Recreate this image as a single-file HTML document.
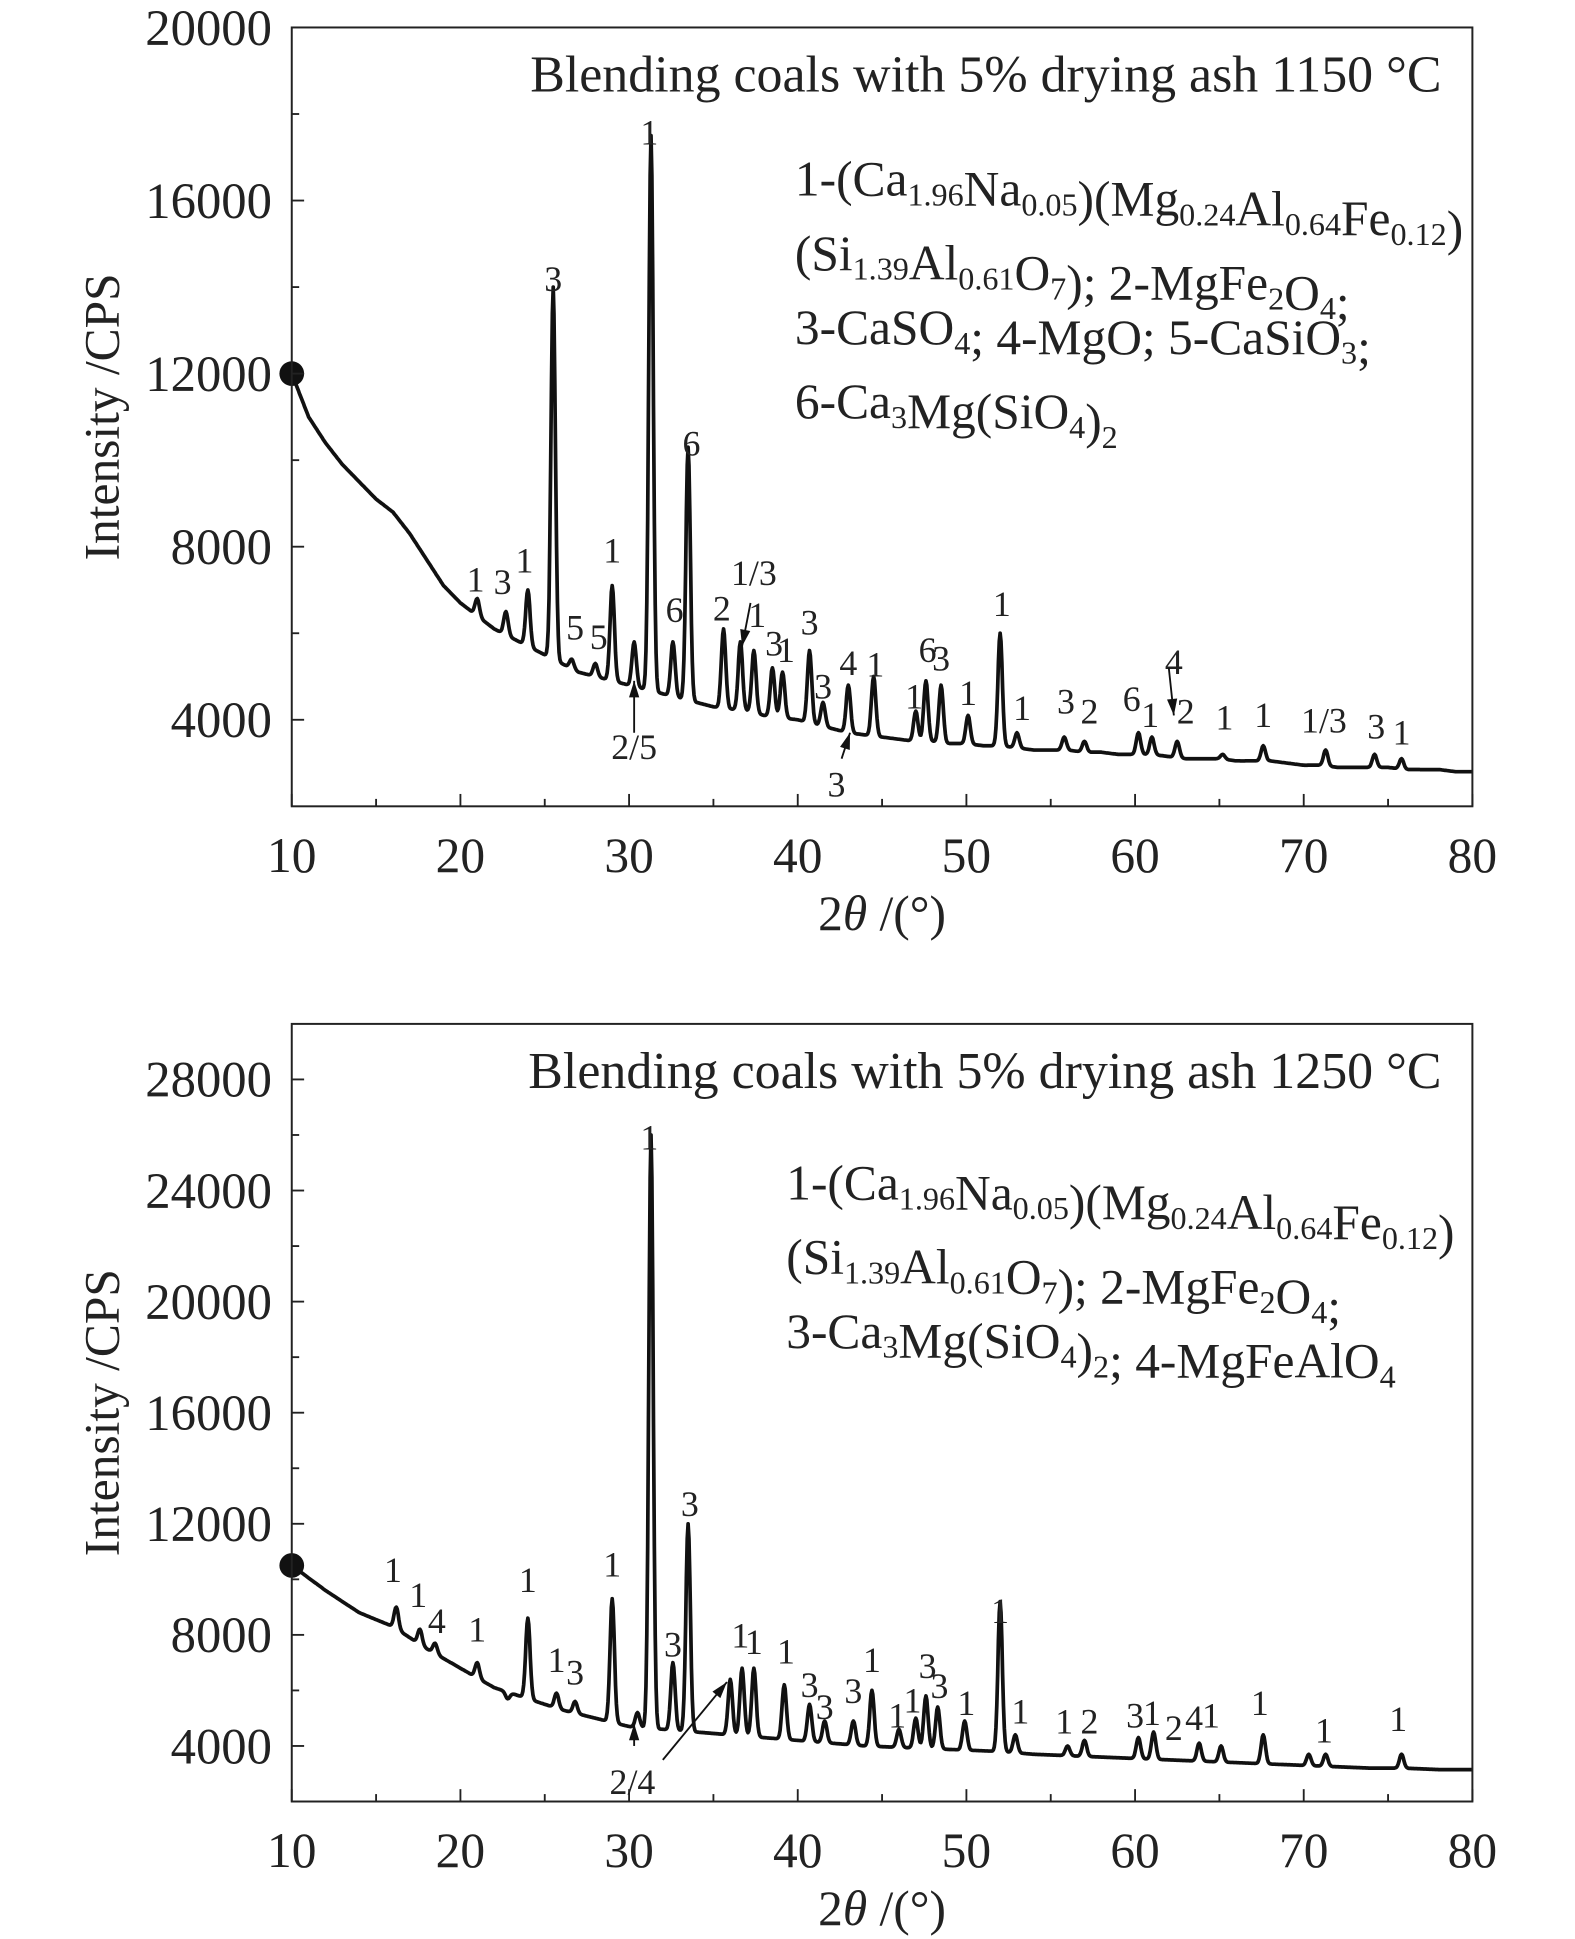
<!DOCTYPE html>
<html><head><meta charset="utf-8"><style>
html,body{margin:0;padding:0;background:#fff}
svg{display:block}
text{font-family:"Liberation Serif",serif;fill:#222}
</style></head><body>
<svg id="chart" width="1575" height="1939" viewBox="0 0 1274 1568" xmlns="http://www.w3.org/2000/svg"></svg>
<script>
// ---- Data: top panel (1150 °C) ----
const topBaseAngles = [10,11,12,13,14,15,16,17,18,19,20,21,22,23,24,25,26,27,28,29,30,31,32,33,34,35,36,37,38,39,40,41,42,43,44,45,46,47,48,49,50,51,52,53,54,55,56,57,58,59,60,61,62,63,64,65,66,67,68,69,70,71,72,73,74,75,76,77,78,79,80];
const topBaseValues = [12000,11000,10400,9900,9500,9100,8800,8300,7700,7100,6700,6400,6100,5900,5700,5500,5300,5100,5000,4900,4800,4700,4600,4500,4400,4300,4250,4200,4100,4050,4000,3900,3800,3700,3650,3600,3550,3500,3500,3450,3450,3400,3400,3350,3300,3300,3300,3250,3250,3200,3200,3200,3150,3100,3100,3100,3050,3050,3050,3000,2950,2950,2900,2900,2900,2900,2850,2850,2850,2800,2800];
const topPeakAngles = [21,22.7,24,25.5,26.6,28,29,30.3,31.3,32.6,33.5,35.6,36.6,37.4,38.5,39.1,40.7,41.5,43,44.5,47,47.6,48.5,50.1,52,53,55.8,57,60.2,61,62.5,65.2,67.6,71.3,74.2,75.8];
const topPeakValues = [6800,6500,7000,14000,5400,5300,7100,5800,17500,5800,10300,6100,5800,5600,5200,5100,5600,4400,4800,5000,4200,4900,4800,4100,6000,3700,3600,3500,3700,3600,3500,3200,3400,3300,3200,3100];
const topLabelText = ["1","3","1","3","5","5","1","6","1","6","2","1/3","1","3","1","3","3","4","1","1","6","3","1","1","1","3","2","6","1","4","2","1","1","1/3","3","1","2/5","3"];
const topLabelAngles = [20.9,22.5,23.8,25.5,26.8,28.2,29,32.7,31.2,33.7,35.5,37.4,37.6,38.6,39.3,40.7,41.5,43,44.6,46.9,47.7,48.5,50.1,52.1,53.3,55.9,57.3,59.8,60.9,62.3,63,65.3,67.6,71.2,74.3,75.8,30.3,42.3];
const topLabelValues = [6970,6910,7400,13910,5860,5630,7630,6260,17290,10110,6290,7110,6140,5490,5340,5970,4490,5030,5000,4260,5340,5140,4340,6400,4000,4140,3910,4200,3830,5060,3910,3770,3830,3710,3570,3430,3090,2230];
const topTicks = [4000,8000,12000,16000,20000];
// ---- Data: bottom panel (1250 °C) ----
const botBaseAngles = [10,12,14,16,18,20,22,24,26,28,30,32,34,36,38,40,42,44,46,48,50,52,54,56,58,60,62,64,66,68,70,72,74,76,78,80];
const botBaseValues = [10500,9600,8800,8300,7500,6800,6100,5700,5300,5000,4700,4600,4500,4400,4300,4200,4100,4000,3950,3900,3850,3800,3700,3650,3600,3550,3500,3450,3400,3350,3300,3250,3200,3200,3150,3150];
const botPeakAngles = [16.2,17.6,18.5,21,22.8,24,25.7,26.8,29,30.5,31.3,32.6,33.5,36,36.7,37.4,39.2,40.7,41.6,43.3,44.4,46,47,47.6,48.3,49.9,52,52.9,56,57,60.2,61.1,63.8,65.1,67.6,70.3,71.3,75.8];
const botPeakValues = [9000,8200,7700,7000,5700,8600,5900,5600,9300,5200,26000,7000,12000,6400,6800,6800,6200,5500,4900,4900,6000,4600,5000,5800,5400,4900,9200,4400,4000,4200,4300,4500,4100,4000,4400,3700,3700,3700];
const botLabelText = ["1","1","4","1","1","1","3","1","1","3","3","1","1","1","3","3","3","1","1","1","3","3","1","1","1","1","2","3","1","2","4","1","1","1","1","2/4"];
const botLabelAngles = [16,17.5,18.6,21,24,25.7,26.8,29,31.2,32.6,33.6,36.6,37.4,39.3,40.7,41.6,43.3,44.4,45.9,46.8,47.7,48.4,50,52,53.2,55.8,57.3,60,61,62.3,63.5,64.5,67.4,71.2,75.6,30.2];
const botLabelValues = [9900,9000,8070,7760,9540,6660,6210,10100,25480,7230,12280,7540,7320,6970,5770,4970,5550,6660,4660,5200,6440,5730,5110,8430,4800,4440,4440,4660,4750,4220,4580,4660,5110,4130,4530,2270];
const botTicks = [4000,8000,12000,16000,20000,24000,28000];

const NS = "http://www.w3.org/2000/svg";
const svg = document.getElementById('chart');
function mk(tag, attrs, parent) {
  const e = document.createElementNS(NS, tag);
  for (const k in attrs) e.setAttribute(k, attrs[k]);
  (parent || svg).appendChild(e);
  return e;
}
function interp(xs, ys, x) {
  if (x <= xs[0]) return ys[0];
  for (let i = 1; i < xs.length; i++) {
    if (x <= xs[i]) { const t = (x - xs[i-1]) / (xs[i] - xs[i-1]); return ys[i-1] + t * (ys[i] - ys[i-1]); }
  }
  return ys[ys.length-1];
}
function panel(cfg) {
  const g = mk('g', {});
  
  
  const X = a => cfg.x0 + (a - 10) / 70 * (cfg.x1 - cfg.x0);
  const Y = v => cfg.y1 - (v - cfg.vmin) / (cfg.vmax - cfg.vmin) * (cfg.y1 - cfg.y0);
  let d = '';
  for (let a = 10; a <= 80.0001; a += 0.05) {
    let v = interp(cfg.bx, cfg.by, a);
    for (let i = 0; i < cfg.px.length; i++) {
      const base = interp(cfg.bx, cfg.by, cfg.px[i]);
      const h = cfg.pv[i] - base;
      const w = 0.13;
      v += h * Math.exp(-Math.pow((a - cfg.px[i]) / w, 2) / 2);
    }
    d += (d ? 'L' : 'M') + X(a).toFixed(1) + ' ' + Y(v).toFixed(1);
  }
  const line = mk('path', {d: d, fill: 'none', stroke: '#111', 'stroke-width': 3, 'stroke-linejoin': 'round'}, g);
  
  
  const dot = mk('circle', {cx: X(10), cy: Y(cfg.by[0]), r: 10, fill: '#111'}, g);
  
  
  const fr = mk('rect', {x: cfg.x0, y: cfg.y0, width: cfg.x1 - cfg.x0, height: cfg.y1 - cfg.y0, fill: 'none', stroke: '#222', 'stroke-width': 1.6}, g);
  
  
  for (let a = 10; a <= 80; a += 5) {
    const major = a % 10 === 0;
    mk('line', {x1: X(a), x2: X(a), y1: cfg.y1, y2: cfg.y1 - (major ? 10 : 6), stroke: '#222', 'stroke-width': 1.5}, g);
    if (major) {
      const t = mk('text', {x: X(a), y: cfg.y1 + 53, 'text-anchor': 'middle', 'font-size': 40}, g);
      t.textContent = a;
      
      
    }
  }
  for (let v = cfg.vmin + 2000; v < cfg.vmax; v += 2000) {
    const major = cfg.ticks.indexOf(v) >= 0;
    mk('line', {x1: cfg.x0, x2: cfg.x0 + (major ? 10 : 6), y1: Y(v), y2: Y(v), stroke: '#222', 'stroke-width': 1.5}, g);
  }
  cfg.ticks.forEach(v => {
    const t = mk('text', {x: cfg.x0 - 16, y: Y(v) + 14, 'text-anchor': 'end', 'font-size': 41}, g);
    t.textContent = v;
    
    
  });
  const xt = mk('text', {x: (cfg.x0 + cfg.x1) / 2, y: cfg.y1 + 100, 'text-anchor': 'middle', 'font-size': 40}, g);
  xt.innerHTML = '2<tspan font-style="italic">θ</tspan> /(°)';
  
  
  const yc = (cfg.y0 + cfg.y1) / 2;
  const yt = mk('text', {x: 96, y: yc, 'text-anchor': 'middle', 'font-size': 40, transform: 'rotate(-90 96 ' + yc + ')'}, g);
  yt.textContent = 'Intensity /CPS';
  
  
  const tt = mk('text', {x: 1166, y: cfg.y0 + 52, 'text-anchor': 'end', 'font-size': 42}, g);
  tt.textContent = cfg.title;
  
  
  cfg.legend.forEach((html, i) => {
    const lt = mk('text', {x: cfg.lx, y: cfg.ly + i * 60, 'font-size': 40}, g);
    lt.innerHTML = html;
    
    
  });
  for (let i = 0; i < cfg.lt.length; i++) {
    const t = mk('text', {x: X(cfg.la[i]), y: Y(cfg.lv[i]), 'text-anchor': 'middle', 'font-size': 29}, g);
    t.textContent = cfg.lt[i];
    
    
  }
  cfg.arrows.forEach(ar => {
    const a = mk('line', {x1: X(ar[0]), y1: Y(ar[1]), x2: X(ar[2]), y2: Y(ar[3]), stroke: '#111', 'stroke-width': 1.5}, g);
    
    
    const x2 = X(ar[2]), y2 = Y(ar[3]);
    const ang = Math.atan2(y2 - Y(ar[1]), x2 - X(ar[0]));
    const p = [[x2, y2], [x2 - 14 * Math.cos(ang - 0.3), y2 - 14 * Math.sin(ang - 0.3)], [x2 - 14 * Math.cos(ang + 0.3), y2 - 14 * Math.sin(ang + 0.3)]];
    mk('polygon', {points: p.map(q => q.join(',')).join(' '), fill: '#111'}, g);
  });
}
const sub = s => '<tspan font-size="26" dy="8">' + s + '</tspan><tspan dy="-8"></tspan>';
panel({name: 'panel-1150', x0: 236, x1: 1191, y0: 22, y1: 652, vmin: 2000, vmax: 20000,
  bx: topBaseAngles, by: topBaseValues, px: topPeakAngles, pv: topPeakValues, ticks: topTicks,
  lt: topLabelText, la: topLabelAngles, lv: topLabelValues,
  title: 'Blending coals with 5% drying ash 1150 °C', lx: 643, ly: 158,
  legend: ['1-(Ca' + sub('1.96') + 'Na' + sub('0.05') + ')(Mg' + sub('0.24') + 'Al' + sub('0.64') + 'Fe' + sub('0.12') + ')',
    '(Si' + sub('1.39') + 'Al' + sub('0.61') + 'O' + sub('7') + '); 2-MgFe' + sub('2') + 'O' + sub('4') + ';',
    '3-CaSO' + sub('4') + '; 4-MgO; 5-CaSiO' + sub('3') + ';',
    '6-Ca' + sub('3') + 'Mg(SiO' + sub('4') + ')' + sub('2')],
  arrows: [[30.3, 3700, 30.3, 4900], [37.2, 6700, 36.7, 5700], [42.6, 3100, 43.1, 3700], [62, 5200, 62.3, 4100]]});
panel({name: 'panel-1250', x0: 236, x1: 1191, y0: 828, y1: 1457, vmin: 2000, vmax: 30000,
  bx: botBaseAngles, by: botBaseValues, px: botPeakAngles, pv: botPeakValues, ticks: botTicks,
  lt: botLabelText, la: botLabelAngles, lv: botLabelValues,
  title: 'Blending coals with 5% drying ash 1250 °C', lx: 636, ly: 970,
  legend: ['1-(Ca' + sub('1.96') + 'Na' + sub('0.05') + ')(Mg' + sub('0.24') + 'Al' + sub('0.64') + 'Fe' + sub('0.12') + ')',
    '(Si' + sub('1.39') + 'Al' + sub('0.61') + 'O' + sub('7') + '); 2-MgFe' + sub('2') + 'O' + sub('4') + ';',
    '3-Ca' + sub('3') + 'Mg(SiO' + sub('4') + ')' + sub('2') + '; 4-MgFeAlO' + sub('4')],
  arrows: [[30.3, 4000, 30.3, 4800], [32, 3500, 35.8, 6300]]});
</script>
</body></html>
